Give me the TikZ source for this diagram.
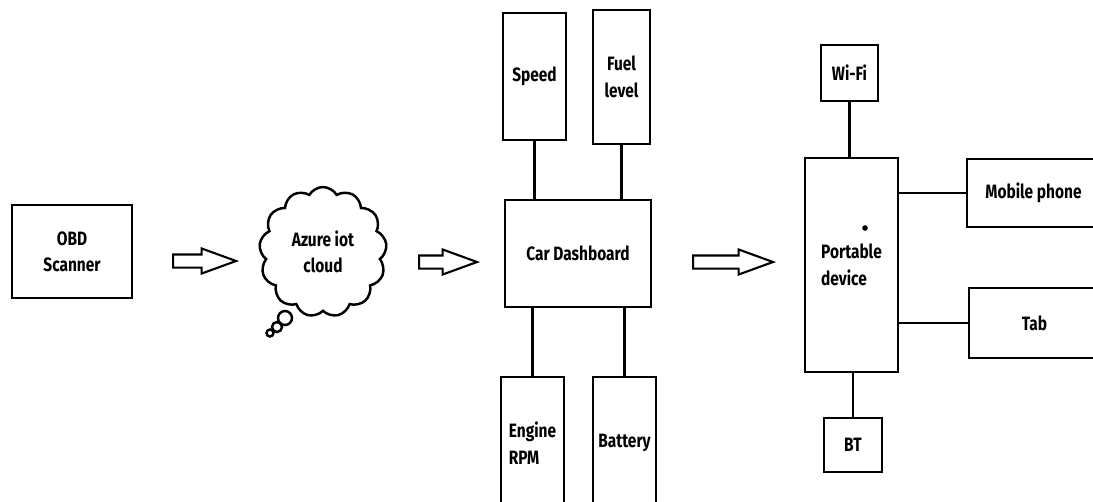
\documentclass[tikz,border=0pt]{standalone}
\usepackage{fontspec}
\setmainfont{Fira Sans}[FakeStretch=0.8]
\usepackage{tikz}
\usetikzlibrary{shapes.symbols,shapes.arrows}

\begin{document}
\begin{tikzpicture}[
  x=0.02cm, y=-0.02cm,
  box/.style={draw, line width=1.6pt, align=center, inner sep=0pt, font=\fontsize{11}{15}\selectfont\bfseries},
  link/.style={line width=1.6pt},
  blockarrow/.style={draw, line width=1.2pt, single arrow, single arrow head extend=0.12cm, single arrow tip angle=40, minimum height=1.26cm, inner xsep=0pt, inner ysep=0.11cm, anchor=tail},
  bubble/.style={draw, line width=1.4pt, circle, inner sep=0pt}
]
\useasboundingbox (0,0) rectangle (1093,501);

\node[box, minimum width=2.4cm, minimum height=1.86cm] (obd) at (72, 251.5) {OBD\\Scanner};
\node[box, cloud, cloud puffs=13, cloud puff arc=120, aspect=1, minimum width=2.55cm, minimum height=2.6cm, line width=1.4pt] (cloud) at (323, 252) {Azure iot\\cloud};
\node[bubble, minimum size=0.28cm] (bub1) at (285, 318) {};
\node[bubble, minimum size=0.2cm] (bub2) at (277, 327) {};
\node[bubble, minimum size=0.14cm] (bub3) at (270, 333) {};

\node[box, minimum width=1.26cm, minimum height=2.54cm] (speed) at (534.5, 76.5) {Speed};
\node[box, minimum width=1.14cm, minimum height=2.68cm] (fuel) at (621.5, 77) {Fuel\\level};
\node[box, minimum width=2.92cm, minimum height=2.14cm] (dash) at (578, 253.5) {Car Dashboard};
\node[box, minimum width=1.26cm, minimum height=2.64cm, align=left] (rpm) at (532.5, 443) {Engine\\RPM};
\node[box, minimum width=1.26cm, minimum height=2.64cm] (battery) at (624.5, 443) {Battery};

\node[box, minimum width=1.14cm, minimum height=1.12cm] (wifi) at (849.5, 73) {Wi-Fi};
\node[box, minimum width=1.86cm, minimum height=4.28cm, align=left] (port) at (851.5, 265) {Portable\\device};
\node[box, minimum width=2.66cm, minimum height=1.36cm] (mobile) at (1033.5, 193) {Mobile phone};
\node[box, minimum width=2.62cm, minimum height=1.4cm] (tab) at (1034.5, 323) {Tab};
\node[box, minimum width=1.16cm, minimum height=1.08cm] (bt) at (853, 445) {BT};
\fill (865, 228) circle (1.6pt);

\node[blockarrow] (arr1) at (172, 261) {};
\node[blockarrow, minimum height=1.16cm] (arr2) at (418, 262) {};
\node[blockarrow, minimum height=1.6cm] (arr3) at (692, 262) {};

\draw[link] (speed.south) -- (speed.south |- dash.north);
\draw[link] (fuel.south) -- (fuel.south |- dash.north);
\draw[link] (dash.south -| rpm.north) -- (rpm.north);
\draw[link] (dash.south -| battery.north) -- (battery.north);

\draw[link] (wifi.south) -- (wifi.south |- port.north);
\draw[link] (port.south -| bt.north) -- (bt.north);
\draw[link] (port.east |- mobile.west) -- (mobile.west);
\draw[link] (port.east |- tab.west) -- (tab.west);
\end{tikzpicture}
\end{document}
